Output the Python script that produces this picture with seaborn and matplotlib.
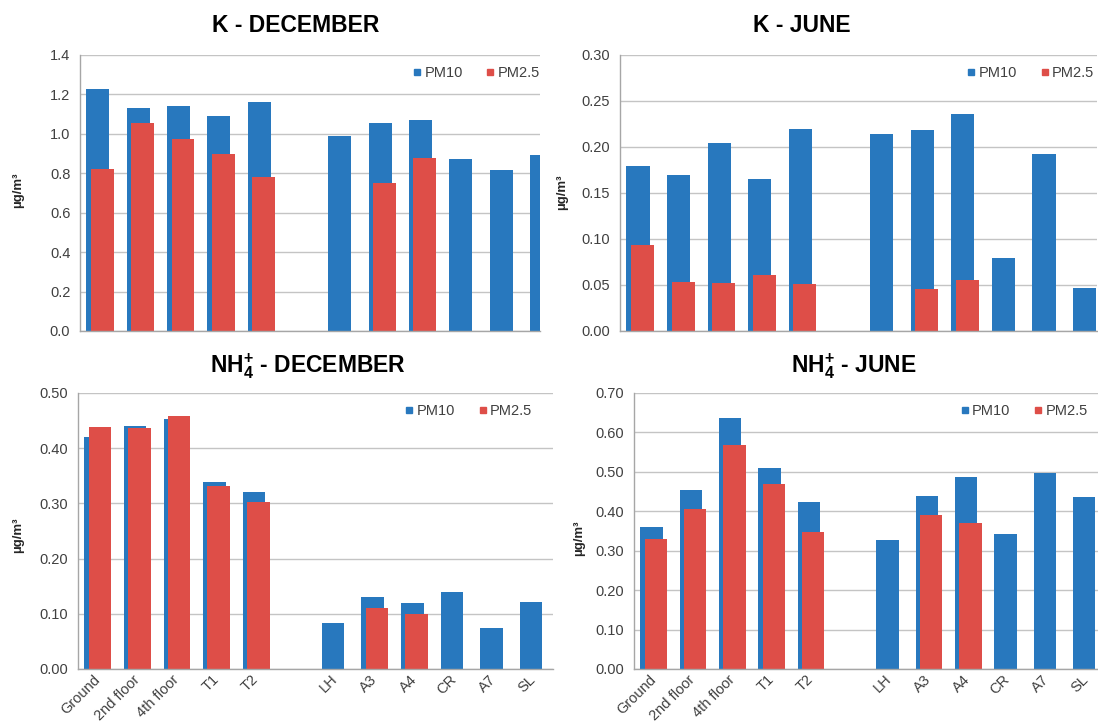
import numpy as np
import pandas as pd
import matplotlib.pyplot as plt
import seaborn as sns
from matplotlib.lines import Line2D
from matplotlib.ticker import MultipleLocator, FormatStrFormatter

nan = np.nan

sites = ["Ground", "2nd floor", "4th floor", "T1", "T2", "", "LH", "A3", "A4", "CR", "A7", "SL"]

k_dec_pm10 = [1.23, 1.13, 1.14, 1.09, 1.16, nan, 0.99, 1.055, 1.07, 0.87, 0.815, 0.895]
k_dec_pm25 = [0.82, 1.055, 0.975, 0.90, 0.78, nan, nan, 0.75, 0.88, nan, nan, nan]

k_jun_pm10 = [0.179, 0.170, 0.204, 0.165, 0.220, nan, 0.214, 0.219, 0.236, 0.079, 0.192, 0.047]
k_jun_pm25 = [0.094, 0.053, 0.052, 0.061, 0.051, nan, nan, 0.046, 0.055, nan, nan, nan]

nh4_dec_pm10 = [0.420, 0.441, 0.453, 0.339, 0.320, nan, 0.084, 0.130, 0.119, 0.140, 0.074, 0.122]
nh4_dec_pm25 = [0.439, 0.436, 0.459, 0.331, 0.302, nan, nan, 0.111, 0.100, nan, nan, nan]

nh4_jun_pm10 = [0.360, 0.455, 0.637, 0.509, 0.423, nan, 0.328, 0.440, 0.488, 0.342, 0.496, 0.435]
nh4_jun_pm25 = [0.330, 0.406, 0.569, 0.468, 0.347, nan, nan, 0.391, 0.370, nan, nan, nan]

BLUE = "#2878BE"
RED = "#DE4E48"
GRID = "#C4C4C4"
TXT = "#404040"

sns.set_style("white")
plt.rcParams["font.family"] = ["Liberation Sans", "DejaVu Sans"]
plt.rcParams["mathtext.fontset"] = "custom"
plt.rcParams["mathtext.rm"] = "Liberation Sans"
plt.rcParams["mathtext.bf"] = "Liberation Sans:bold"

W, H = 1098, 722
fig = plt.figure(figsize=(W / 100, H / 100), dpi=100)


def rect(left, right, top, bottom):
    return [left / W, 1 - bottom / H, (right - left) / W, (bottom - top) / H]


# title, pm10, pm2.5, ymax, ystep, fmt, show x labels, axes box (px), xmax,
# title pos (px), ylabel pos (px), legend anchor x
panels = [
    ("K - DECEMBER", k_dec_pm10, k_dec_pm25, 1.4, 0.2, "%.1f", False,
     (80, 540, 55, 331), 10.91, (296, 25), (18, 190), 1.0),
    ("K - JUNE", k_jun_pm10, k_jun_pm25, 0.30, 0.05, "%.2f", False,
     (620, 1097, 55, 331), 11.25, (802, 25), (562, 192), 0.994),
    (r"NH$_{\mathbf{4}}^{\mathbf{+}}$ - DECEMBER", nh4_dec_pm10, nh4_dec_pm25, 0.50, 0.10, "%.2f", True,
     (78, 553, 393, 669), 11.5, (308, 366), (18, 535), 0.956),
    (r"NH$_{\mathbf{4}}^{\mathbf{+}}$ - JUNE", nh4_jun_pm10, nh4_jun_pm25, 0.70, 0.10, "%.2f", True,
     (634, 1098, 393, 669), 11.3, (854, 366), (579, 538), 0.978),
]

for title, pm10, pm25, ymax, ystep, fmt, show_x, box, xmax, tpos, ypos, lgx in panels:
    ax = fig.add_axes(rect(*box))
    ax.set_axisbelow(True)

    for vals, color, shift in ((pm10, BLUE, -0.055), (pm25, RED, 0.055)):
        df = pd.DataFrame({"site": sites, "value": vals}).dropna()
        n0 = len(ax.patches)
        sns.barplot(data=df, x="site", y="value", order=sites, color=color,
                    saturation=1, width=0.57, errorbar=None, ax=ax)
        for p in ax.patches[n0:]:
            p.set_x(p.get_x() + shift)
            p.set_linewidth(0)

    ax.set_xticks(range(len(sites)))
    ax.set_xticks(np.arange(-0.5, len(sites), 1), minor=True)
    ax.set_xlim(-0.5, xmax)
    ax.set_ylim(0, ymax)
    ax.yaxis.set_major_locator(MultipleLocator(ystep))
    ax.yaxis.set_major_formatter(FormatStrFormatter(fmt))
    ax.yaxis.grid(True, color=GRID, lw=1)
    ax.set_xlabel("")
    ax.set_ylabel("")

    for s in ("top", "right"):
        ax.spines[s].set_visible(False)
    for s in ("left", "bottom"):
        ax.spines[s].set_color("#A6A6A6")
        ax.spines[s].set_linewidth(1)

    ax.tick_params(axis="x", which="major", length=0, pad=6)
    ax.tick_params(axis="x", which="minor", length=4, color="#A6A6A6", direction="out")
    ax.tick_params(axis="y", length=4, color="#A6A6A6", direction="out",
                   labelsize=10.5, labelcolor=TXT, pad=3)
    if show_x:
        ax.set_xticklabels(sites, rotation=45, ha="right", va="center",
                           rotation_mode="anchor", fontsize=10.5, color=TXT)
    else:
        ax.set_xticklabels([])

    handles = [Line2D([], [], marker="s", ls="", color=BLUE, markersize=5),
               Line2D([], [], marker="s", ls="", color=RED, markersize=5)]
    ax.legend(handles, ["PM10", "PM2.5"], ncol=2, frameon=False, loc="center right",
              bbox_to_anchor=(lgx, 0.935), borderaxespad=0, borderpad=0,
              handlelength=0.6, handletextpad=0.2, columnspacing=1.6,
              prop={"size": 10.5}, labelcolor=TXT)

    fig.text(tpos[0] / W, 1 - tpos[1] / H, title, ha="center", va="center",
             fontsize=16.5, fontweight="bold", color="black")
    fig.text(ypos[0] / W, 1 - ypos[1] / H, "µg/m³", ha="center", va="center",
             rotation=90, fontsize=9.5, fontweight="bold", color="#262626")

fig.savefig("out.png", dpi=100)
